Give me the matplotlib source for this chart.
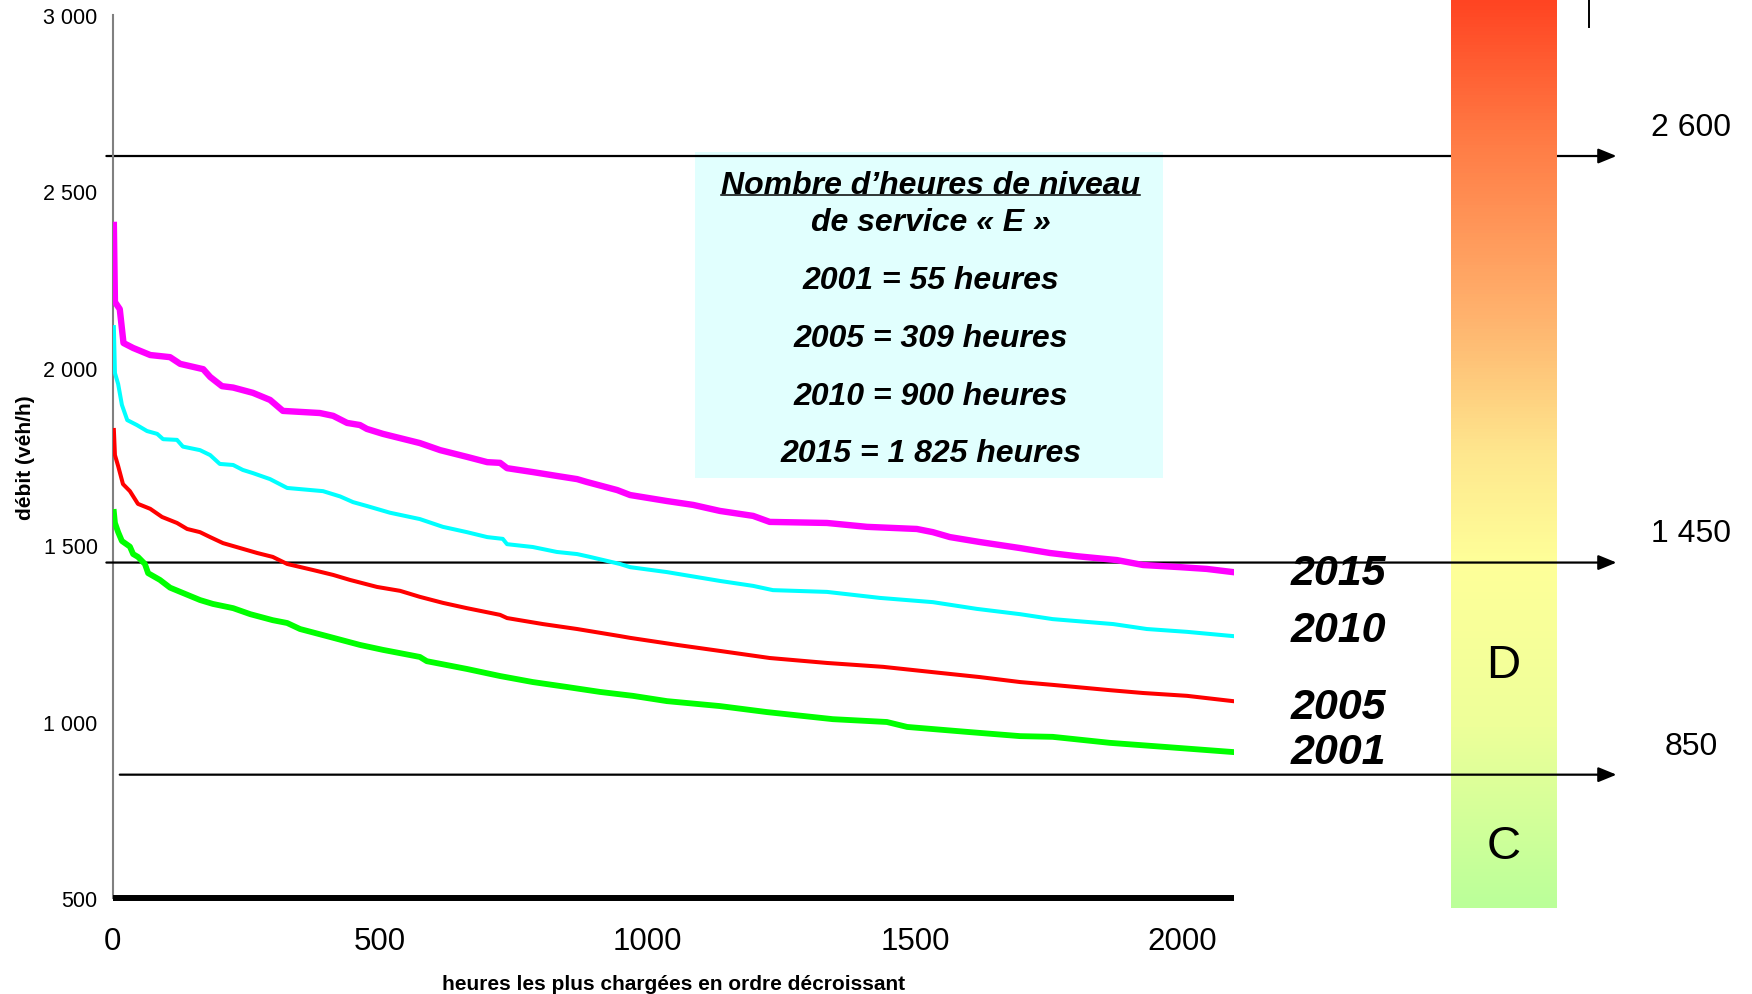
"""Load duration curves (débit horaire classé) with level-of-service thresholds."""

import matplotlib

matplotlib.use("Agg")
import matplotlib.pyplot as plt
import numpy as np
from matplotlib.colors import LinearSegmentedColormap
from matplotlib.lines import Line2D
from matplotlib.patches import Rectangle
from matplotlib.ticker import FuncFormatter, MultipleLocator

plt.rcParams["font.family"] = ["Liberation Sans", "DejaVu Sans"]

# hours ranked by decreasing load and matching hourly flow (veh/h)
HOURS_2015 = [2, 4, 13, 20, 38, 70, 107, 126, 169, 182, 204, 225, 262, 294, 318, 387, 412,
              438, 462, 475, 505, 574, 612, 662, 700, 724, 737, 785, 830, 868, 886, 943, 967,
              1036, 1085, 1135, 1197, 1228, 1335, 1410, 1503, 1533, 1565, 1621, 1696, 1752,
              1802, 1877, 1926, 1995, 2045, 2094]
FLOW_2015 = [2405, 2187, 2167, 2071, 2057, 2037, 2031, 2012, 1997, 1975, 1949, 1945, 1930,
             1910, 1879, 1873, 1865, 1845, 1839, 1828, 1814, 1788, 1768, 1749, 1734, 1732,
             1717, 1706, 1695, 1686, 1678, 1655, 1641, 1624, 1613, 1596, 1582, 1565, 1562,
             1551, 1545, 1536, 1522, 1508, 1491, 1477, 1468, 1457, 1443, 1437, 1432, 1423]

HOURS_2010 = [2, 4, 10, 17, 27, 45, 64, 83, 94, 120, 131, 163, 182, 200, 225, 243, 262, 294,
              326, 393, 425, 449, 475, 518, 574, 617, 662, 700, 729, 737, 785, 830, 868, 892,
              948, 967, 1036, 1135, 1197, 1234, 1335, 1434, 1533, 1615, 1696, 1757, 1870,
              1933, 2008, 2094]
FLOW_2010 = [2116, 1986, 1955, 1896, 1853, 1839, 1822, 1814, 1799, 1797, 1778, 1768, 1754,
             1729, 1726, 1712, 1703, 1686, 1661, 1652, 1637, 1621, 1610, 1591, 1573, 1551,
             1536, 1522, 1517, 1502, 1494, 1480, 1474, 1466, 1446, 1437, 1423, 1398, 1384,
             1372, 1367, 1350, 1338, 1319, 1304, 1290, 1276, 1262, 1254, 1242]

HOURS_2005 = [2, 4, 10, 19, 32, 47, 70, 92, 120, 139, 163, 182, 206, 238, 270, 299, 326, 374,
              412, 443, 494, 537, 574, 617, 662, 724, 737, 804, 868, 948, 967, 1055, 1135,
              1228, 1335, 1440, 1533, 1621, 1696, 1757, 1864, 1926, 2008, 2094]
FLOW_2005 = [1825, 1754, 1723, 1672, 1652, 1616, 1602, 1579, 1562, 1545, 1536, 1522, 1505,
             1491, 1477, 1466, 1446, 1429, 1415, 1401, 1381, 1370, 1353, 1336, 1321, 1302,
             1293, 1276, 1262, 1242, 1237, 1217, 1200, 1180, 1166, 1155, 1140, 1126, 1112,
             1104, 1089, 1081, 1073, 1058]

HOURS_2001 = [2, 4, 10, 17, 32, 38, 47, 60, 66, 88, 107, 131, 163, 187, 225, 257, 299, 326,
              350, 400, 462, 505, 574, 587, 662, 724, 785, 849, 911, 972, 1036, 1135, 1223,
              1346, 1447, 1485, 1597, 1696, 1757, 1864, 1971, 2094]
FLOW_2001 = [1593, 1562, 1536, 1511, 1495, 1474, 1466, 1446, 1420, 1401, 1379, 1364, 1344,
             1333, 1321, 1304, 1287, 1279, 1262, 1242, 1217, 1203, 1183, 1171, 1149, 1129,
             1112, 1098, 1084, 1073, 1058, 1044, 1027, 1007, 999, 985, 971, 959, 957, 940,
             928, 914]

YEARS = ["2015", "2010", "2005", "2001"]
THRESHOLDS = [2600, 1450, 850]
THRESHOLD_LABELS = ["2 600", "1 450", "850"]
LOS_LETTERS = ["D", "C"]
LOS_CENTERS = [1160, 648]
BOX_LINES = [
    "Nombre d’heures de niveau",
    "de service « E »",
    "2001 = 55 heures",
    "2005 = 309 heures",
    "2010 = 900 heures",
    "2015 = 1 825 heures",
]

# layout / style
CURVE_STYLE = {
    "2015": ("#FF00FF", 4.6),
    "2010": ("#00FFFF", 2.9),
    "2005": ("#FF0000", 2.9),
    "2001": ("#00FF00", 4.2),
}
YEAR_LABEL_Y = [1420, 1260, 1040, 915]
ARROW_START = [-12, -12, 13]
BAR_STOPS = [
    (0.00, "#FF4422"),
    (0.15, "#FF7A44"),
    (0.35, "#FFB36E"),
    (0.50, "#FEE78E"),
    (0.62, "#FFFF99"),
    (0.80, "#EEFF99"),
    (0.87, "#DCFF99"),
    (1.00, "#BBFF99"),
]
BOX_LINE_Y = [186, 223, 281, 339, 397, 454]  # pixel rows from the top


def main() -> None:
    curves = {
        "2015": (HOURS_2015, FLOW_2015),
        "2010": (HOURS_2010, FLOW_2010),
        "2005": (HOURS_2005, FLOW_2005),
        "2001": (HOURS_2001, FLOW_2001),
    }

    width, height = 1752, 995
    fig = plt.figure(figsize=(width / 100, height / 100), dpi=100)
    ax = fig.add_axes([112.8 / width, 1 - 899.4 / height, 1120.7 / width, 883.8 / height])
    ax.patch.set_alpha(0)

    for year in YEARS:
        hours, flow = curves[year]
        color, lw = CURVE_STYLE[year]
        ax.plot(hours, flow, color=color, linewidth=lw, solid_joinstyle="round", zorder=4)

    # colour scale for the levels of service
    cmap = LinearSegmentedColormap.from_list("los", BAR_STOPS)
    bar = ax.imshow(np.linspace(0, 1, 256).reshape(-1, 1), cmap=cmap, aspect="auto",
                    extent=(2501, 2699, 474, 3044), origin="upper", zorder=2)
    bar.set_clip_on(False)

    for value, label, start in zip(THRESHOLDS, THRESHOLD_LABELS, ARROW_START):
        ax.annotate("", xy=(2811, value), xytext=(start, value), annotation_clip=False,
                    arrowprops=dict(arrowstyle="-|>,head_length=1.1,head_width=0.45",
                                    color="black", lw=1.6, shrinkA=0, shrinkB=0,
                                    mutation_scale=10),
                    zorder=1 if value > 2000 else 3)
        ax.annotate(label, xy=(2951, value), xytext=(0, 21), textcoords="offset points",
                    ha="center", va="center", fontsize=23, annotation_clip=False)

    for letter, center in zip(LOS_LETTERS, LOS_CENTERS):
        ax.text(2600, center, letter, ha="center", va="center", fontsize=34,
                clip_on=False, zorder=5)

    for year, ypos in zip(YEARS, YEAR_LABEL_Y):
        ax.text(2291, ypos, year, ha="center", va="center", fontsize=31,
                fontweight="bold", fontstyle="italic", clip_on=False, zorder=5)

    ax.set_xlim(0, 2095)
    ax.set_ylim(500, 3000)
    ax.xaxis.set_major_locator(MultipleLocator(500))
    ax.yaxis.set_major_locator(MultipleLocator(500))
    ax.yaxis.set_major_formatter(FuncFormatter(lambda v, _: f"{int(v):,}".replace(",", " ")))
    ax.tick_params(axis="both", length=0)
    ax.tick_params(axis="x", labelsize=22.5, pad=20)
    ax.tick_params(axis="y", labelsize=15.5, pad=11)

    for side in ("top", "right"):
        ax.spines[side].set_visible(False)
    ax.spines["left"].set_color("#808080")
    ax.spines["left"].set_linewidth(1.5)
    ax.spines["bottom"].set_color("black")
    ax.spines["bottom"].set_linewidth(4.3)
    ax.spines["bottom"].set_capstyle("butt")

    ax.set_xlabel("heures les plus chargées en ordre décroissant", fontsize=15,
                  fontweight="bold", labelpad=13)
    ax.set_ylabel("débit (véh/h)", fontsize=15, fontweight="bold", labelpad=6)

    # summary box, drawn behind the (transparent) plot area
    fig.add_artist(Rectangle((695 / width, 1 - 479 / height), 468 / width, 326 / height,
                             transform=fig.transFigure, facecolor="#E1FFFE",
                             edgecolor="none", zorder=-1))
    texts = []
    for line, ypix in zip(BOX_LINES, BOX_LINE_Y):
        texts.append(fig.text(930.7 / width, 1 - ypix / height, line, ha="center",
                              va="center", fontsize=23, fontweight="bold",
                              fontstyle="italic"))

    # underline of the box title
    fig.canvas.draw()
    bb = texts[0].get_window_extent(fig.canvas.get_renderer())
    y_line = (bb.y0 + 5) / height
    fig.add_artist(Line2D([bb.x0 / width, bb.x1 / width], [y_line, y_line],
                          transform=fig.transFigure, color="black", linewidth=1.1))

    # stray tick at the top right
    fig.add_artist(Line2D([1588.7 / width] * 2, [1.0, 1 - 28 / height],
                          transform=fig.transFigure, color="black", linewidth=1.4))

    fig.savefig("out.png", dpi=100, facecolor="white")
    plt.close(fig)


if __name__ == "__main__":
    main()
